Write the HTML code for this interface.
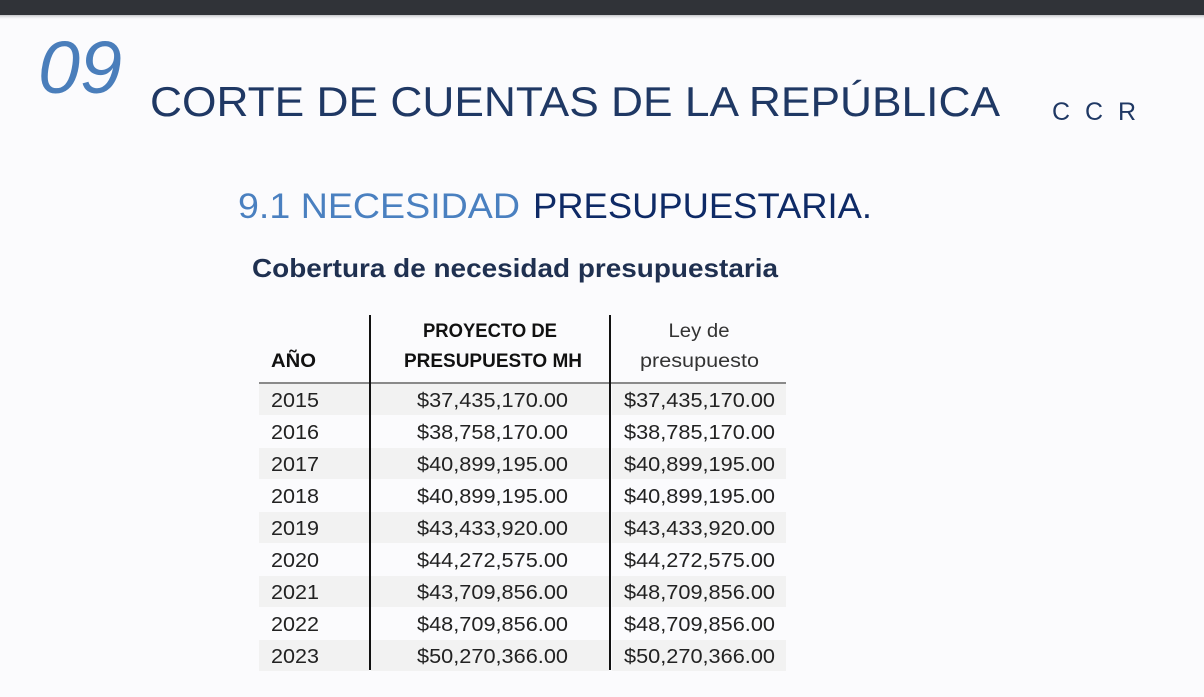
<!DOCTYPE html>
<html><head><meta charset="utf-8"><style>
html,body{margin:0;padding:0;background:#fbfbfd;}
svg{display:block;}
text{font-family:"Liberation Sans",sans-serif;}
</style></head><body>
<svg width="1204" height="697" viewBox="0 0 1204 697" xmlns="http://www.w3.org/2000/svg">
<defs><linearGradient id="sh" x1="0" y1="0" x2="0" y2="1"><stop offset="0" stop-color="#9a9ca0" stop-opacity=".6"/><stop offset="1" stop-color="#fbfbfd" stop-opacity="0"/></linearGradient></defs>
<rect x="0" y="0" width="1204" height="697" fill="#fbfbfd"/>
<rect x="0" y="0" width="1204" height="15" fill="#303338"/>
<rect x="0" y="15" width="1204" height="5" fill="url(#sh)"/>
<text x="38" y="93" font-size="74" font-style="italic" fill="#4a7ebb" textLength="84" lengthAdjust="spacingAndGlyphs">09</text>
<text x="150" y="116" font-size="42" fill="#1f3864" textLength="850" lengthAdjust="spacingAndGlyphs">CORTE DE CUENTAS DE LA REPÚBLICA</text>
<text x="1052" y="120" font-size="25" fill="#1f3864" textLength="84" lengthAdjust="spacing">CCR</text>
<text x="238" y="218" font-size="35" fill="#4a80c0" textLength="282" lengthAdjust="spacingAndGlyphs">9.1 NECESIDAD</text>
<text x="533" y="218" font-size="35" fill="#0e2a66" textLength="339" lengthAdjust="spacingAndGlyphs">PRESUPUESTARIA.</text>
<text x="252" y="277" font-size="26" font-weight="bold" fill="#1f3050" textLength="526" lengthAdjust="spacingAndGlyphs">Cobertura de necesidad presupuestaria</text>
<g fill="#f2f2f2">
<rect x="259" y="384" width="110" height="31"/><rect x="371" y="384" width="238" height="31"/><rect x="612" y="384" width="174" height="31"/>
<rect x="259" y="448" width="110" height="31"/><rect x="371" y="448" width="238" height="31"/><rect x="612" y="448" width="174" height="31"/>
<rect x="259" y="512" width="110" height="31"/><rect x="371" y="512" width="238" height="31"/><rect x="612" y="512" width="174" height="31"/>
<rect x="259" y="576" width="110" height="31"/><rect x="371" y="576" width="238" height="31"/><rect x="612" y="576" width="174" height="31"/>
<rect x="259" y="640" width="110" height="31"/><rect x="371" y="640" width="238" height="31"/><rect x="612" y="640" width="174" height="31"/>
</g>
<rect x="259" y="382" width="527" height="2" fill="#8a8a8a"/>
<rect x="369" y="315" width="2" height="355" fill="#111"/>
<rect x="609" y="315" width="2" height="355" fill="#111"/>
<g fill="#111" font-size="19">
<text x="271" y="367" font-weight="bold" textLength="45" lengthAdjust="spacingAndGlyphs">AÑO</text>
<text x="490" y="337" font-weight="bold" text-anchor="middle" textLength="134" lengthAdjust="spacingAndGlyphs">PROYECTO DE</text>
<text x="404" y="367" font-weight="bold" textLength="178" lengthAdjust="spacingAndGlyphs">PRESUPUESTO MH</text>
<text x="699" y="337" text-anchor="middle" fill="#333" textLength="61" lengthAdjust="spacingAndGlyphs">Ley de</text>
<text x="640" y="367" fill="#333" textLength="119" lengthAdjust="spacingAndGlyphs">presupuesto</text>
</g>
<g fill="#222" font-size="20">
<text x="271" y="407" textLength="48" lengthAdjust="spacingAndGlyphs">2015</text><text x="417" y="407" textLength="151" lengthAdjust="spacingAndGlyphs">$37,435,170.00</text><text x="624" y="407" textLength="151" lengthAdjust="spacingAndGlyphs">$37,435,170.00</text>
<text x="271" y="439" textLength="48" lengthAdjust="spacingAndGlyphs">2016</text><text x="417" y="439" textLength="151" lengthAdjust="spacingAndGlyphs">$38,758,170.00</text><text x="624" y="439" textLength="151" lengthAdjust="spacingAndGlyphs">$38,785,170.00</text>
<text x="271" y="471" textLength="48" lengthAdjust="spacingAndGlyphs">2017</text><text x="417" y="471" textLength="151" lengthAdjust="spacingAndGlyphs">$40,899,195.00</text><text x="624" y="471" textLength="151" lengthAdjust="spacingAndGlyphs">$40,899,195.00</text>
<text x="271" y="503" textLength="48" lengthAdjust="spacingAndGlyphs">2018</text><text x="417" y="503" textLength="151" lengthAdjust="spacingAndGlyphs">$40,899,195.00</text><text x="624" y="503" textLength="151" lengthAdjust="spacingAndGlyphs">$40,899,195.00</text>
<text x="271" y="535" textLength="48" lengthAdjust="spacingAndGlyphs">2019</text><text x="417" y="535" textLength="151" lengthAdjust="spacingAndGlyphs">$43,433,920.00</text><text x="624" y="535" textLength="151" lengthAdjust="spacingAndGlyphs">$43,433,920.00</text>
<text x="271" y="567" textLength="48" lengthAdjust="spacingAndGlyphs">2020</text><text x="417" y="567" textLength="151" lengthAdjust="spacingAndGlyphs">$44,272,575.00</text><text x="624" y="567" textLength="151" lengthAdjust="spacingAndGlyphs">$44,272,575.00</text>
<text x="271" y="599" textLength="48" lengthAdjust="spacingAndGlyphs">2021</text><text x="417" y="599" textLength="151" lengthAdjust="spacingAndGlyphs">$43,709,856.00</text><text x="624" y="599" textLength="151" lengthAdjust="spacingAndGlyphs">$48,709,856.00</text>
<text x="271" y="631" textLength="48" lengthAdjust="spacingAndGlyphs">2022</text><text x="417" y="631" textLength="151" lengthAdjust="spacingAndGlyphs">$48,709,856.00</text><text x="624" y="631" textLength="151" lengthAdjust="spacingAndGlyphs">$48,709,856.00</text>
<text x="271" y="663" textLength="48" lengthAdjust="spacingAndGlyphs">2023</text><text x="417" y="663" textLength="151" lengthAdjust="spacingAndGlyphs">$50,270,366.00</text><text x="624" y="663" textLength="151" lengthAdjust="spacingAndGlyphs">$50,270,366.00</text>
</g>
</svg>
</body></html>
